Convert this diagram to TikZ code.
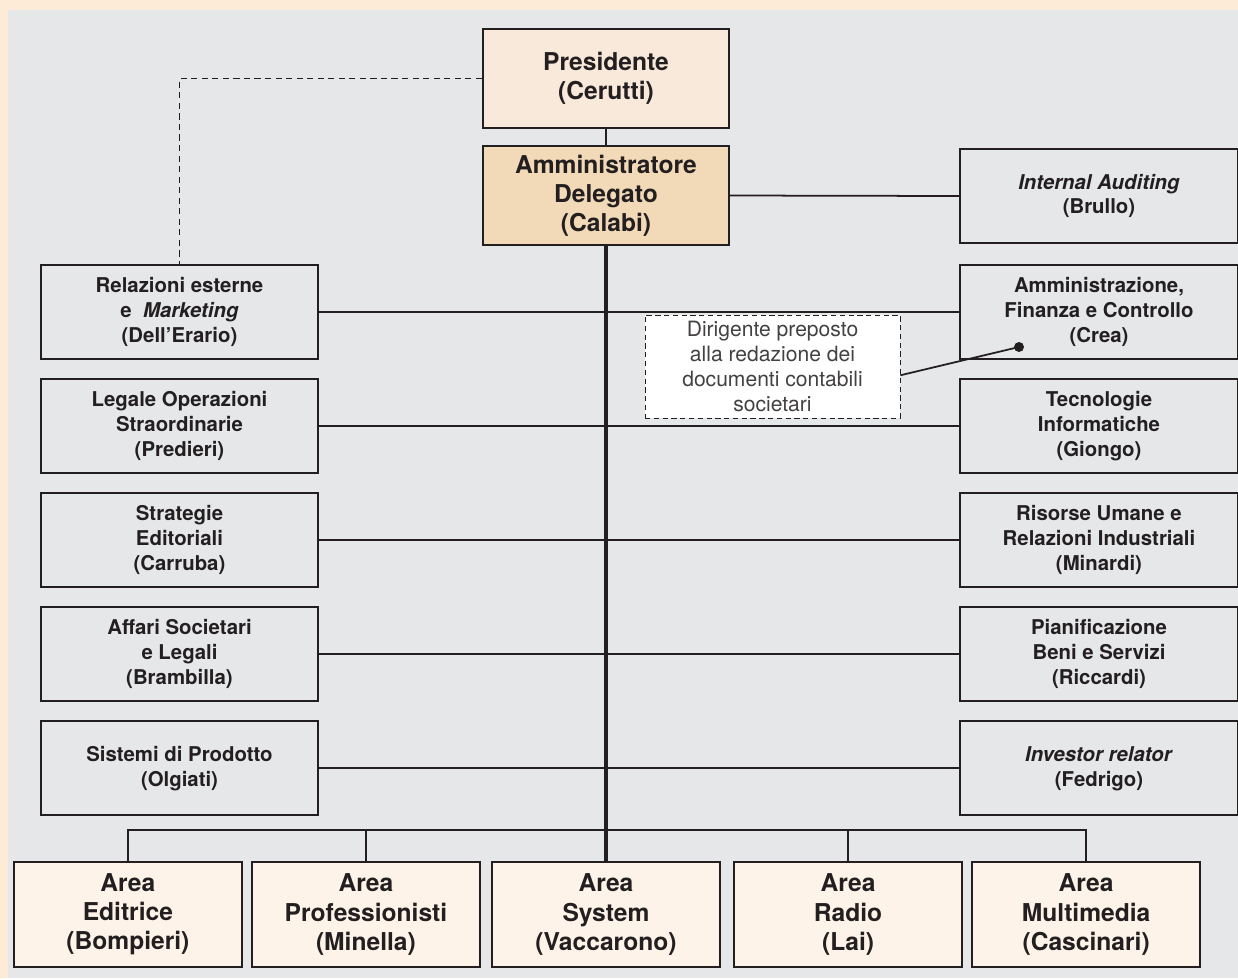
\documentclass[tikz,border=0pt]{standalone}
\usepackage{fontspec}
\setmainfont{TeX Gyre Heros}
\usetikzlibrary{positioning}
\definecolor{framecolor}{HTML}{FDEBD8}
\definecolor{panelcolor}{HTML}{E6E7E9}
\definecolor{prescolor}{HTML}{F8E9DA}
\definecolor{adcolor}{HTML}{F2D9B8}
\definecolor{areacolor}{HTML}{FDF3E8}
\definecolor{inkcolor}{HTML}{231F20}

\begin{document}
\begin{tikzpicture}[
  x=0.02cm, y=-0.02cm,
  box/.style={draw=inkcolor, line width=1.2pt, align=center, inner sep=2pt,
              text=inkcolor, font=\fontsize{11.6}{14.2}\selectfont\bfseries},
  side/.style={box, minimum width=5.54cm, minimum height=1.88cm},
  head/.style={box, minimum width=4.92cm, minimum height=1.98cm,
               font=\fontsize{14}{16.6}\selectfont\bfseries},
  area/.style={head, fill=areacolor, minimum width=4.56cm, minimum height=2.1cm},
  note/.style={draw=inkcolor, dash pattern=on 3pt off 2pt, fill=white,
               align=center, minimum width=5.1cm, minimum height=2.06cm,
               inner sep=1pt, text=inkcolor!85,
               font=\fontsize{12}{14.2}\selectfont},
  conn/.style={draw=inkcolor, line width=1pt},
]
  % ── Background ──────────────────
  \useasboundingbox[fill=framecolor] (0,0) rectangle (1238,978);
  \fill[panelcolor] (8,10) rectangle (1238,978);

  % ── Top ─────────────────────────
  \node[head, fill=prescolor] (pres) at (606,78.5)
        {Presidente\\(Cerutti)};
  \node[head, fill=adcolor] (ad) at (606,195.5)
        {Amministratore\\Delegato\\(Calabi)};

  % ── Staff, left ─────────────────
  \node[side] (rel) at (179.5,312)
        {Relazioni esterne\\e\ \ \textit{Marketing}\\(Dell’Erario)};
  \node[side, below=0.36cm of rel] (leg)
        {Legale Operazioni\\Straordinarie\\(Predieri)};
  \node[side, below=0.36cm of leg] (str)
        {Strategie\\Editoriali\\(Carruba)};
  \node[side, below=0.36cm of str] (aff)
        {Affari Societari\\e Legali\\(Brambilla)};
  \node[side, below=0.36cm of aff] (sis)
        {Sistemi di Prodotto\\(Olgiati)};

  % ── Staff, right ────────────────
  \node[side, minimum width=5.56cm] (aud) at (1099,196)
        {\textit{Internal Auditing}\\(Brullo)};
  \node[side, minimum width=5.56cm] (amm) at (1099,312)
        {Amministrazione,\\Finanza e Controllo\\(Crea)};
  \node[side, minimum width=5.56cm, below=0.36cm of amm] (tec)
        {Tecnologie\\Informatiche\\(Giongo)};
  \node[side, minimum width=5.56cm, below=0.36cm of tec] (ris)
        {Risorse Umane e\\Relazioni Industriali\\(Minardi)};
  \node[side, minimum width=5.56cm, below=0.36cm of ris] (pia)
        {Pianificazione\\Beni e Servizi\\(Riccardi)};
  \node[side, minimum width=5.56cm, below=0.36cm of pia] (inv)
        {\textit{Investor relator}\\(Fedrigo)};

  % ── Areas ───────────────────────
  \node[area] (sys) at (606,914.5) {Area\\System\\(Vaccarono)};
  \node[area, left=0.2cm of sys] (pro) {Area\\Professionisti\\(Minella)};
  \node[area, left=0.16cm of pro] (edi) {Area\\Editrice\\(Bompieri)};
  \node[area, right=0.24cm of sys] (rad) {Area\\Radio\\(Lai)};
  \node[area, right=0.16cm of rad] (mul) {Area\\Multimedia\\(Cascinari)};

  % ── Lines ───────────────────────
  \draw[conn, dash pattern=on 3.5pt off 2.5pt] (pres.west) -| (rel.north);
  \draw[conn] (pres.south) -- (ad.north);
  \draw[conn] (ad.east) -- (aud.west);
  \draw[conn] (rel.east) -- (amm.west);
  \draw[conn] (leg.east) -- (tec.west);
  \draw[conn] (str.east) -- (ris.west);
  \draw[conn] (aff.east) -- (pia.west);
  \draw[conn] (sis.east) -- (inv.west);
  \coordinate (bus) at (606,830);
  \draw[conn] (edi.north) |- (bus) -| (mul.north);
  \draw[conn] (pro.north) -- (pro.north |- bus);
  \draw[conn] (rad.north) -- (rad.north |- bus);
  \draw[inkcolor, line width=2pt] (ad.south) -- (sys.north);

  % ── Dirigente preposto ──────────
  \node[note] (dir) at (772.5,366.5)
        {Dirigente preposto\\alla redazione dei\\documenti contabili\\societari};
  \coordinate (dot) at (1019,347);
  \draw[conn] ([yshift=-5pt]dir.east) -- (dot);
  \fill[inkcolor] (dot) circle (0.1cm);
\end{tikzpicture}
\end{document}
